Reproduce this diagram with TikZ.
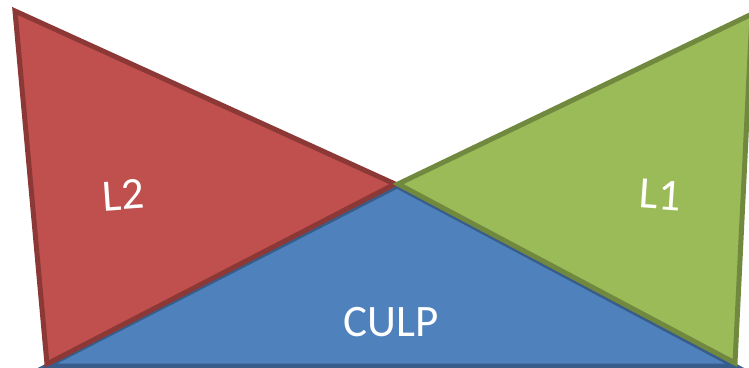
\documentclass[tikz,border=0pt]{standalone}
\usepackage{fontspec}
\setmainfont{Carlito}
\definecolor{redfill}{HTML}{C0504D}
\definecolor{redline}{HTML}{8C3836}
\definecolor{greenfill}{HTML}{9BBB59}
\definecolor{greenline}{HTML}{71893F}
\definecolor{bluefill}{HTML}{4F81BD}
\definecolor{blueline}{HTML}{385D8A}
\begin{document}
\begin{tikzpicture}[x=1pt,y=-1pt,
  tri/.style={line width=5pt,line join=miter},
  lbl/.style={text=white,font=\fontsize{45}{45}\selectfont,inner sep=0pt}]
\useasboundingbox (0,0) rectangle (749,367);
\begin{scope}
\clip (0,0) rectangle (749,367);
% base triangle
\draw[tri,fill=bluefill,draw=blueline] (47,366) -- (397,186) -- (735,366) -- cycle;
% left wing
\draw[tri,fill=redfill,draw=redline] (15,11) -- (395,184) -- (47,364) -- cycle;
% right wing
\draw[tri,fill=greenfill,draw=greenline] (398,184) -- (752,14) -- (735,363) -- cycle;
\end{scope}
\node[lbl,rotate=4] (l2) at (123,195) {L2};
\node[lbl,rotate=-4] (l1) at (660,195) {L1};
\node[lbl] (culp) at (391,322) {CULP};
\end{tikzpicture}
\end{document}
